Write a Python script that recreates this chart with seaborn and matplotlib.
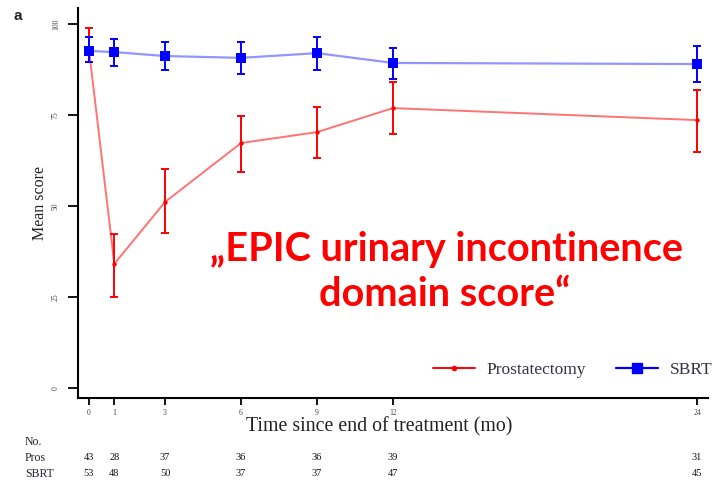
import matplotlib
matplotlib.use("Agg")
import matplotlib.pyplot as plt
import matplotlib.transforms as mtransforms
import seaborn as sns
import pandas as pd

# Follow-up time points (months after end of treatment)
months = [0, 1, 3, 6, 9, 12, 24]

# Prostatectomy: mean score with lower / upper confidence limits
pros_mean = [92.9, 34.1, 51.1, 67.3, 70.3, 76.9, 73.6]
pros_low = [89.6, 25.0, 42.6, 59.3, 63.2, 69.8, 64.8]
pros_high = [98.9, 42.3, 60.2, 74.7, 77.2, 84.1, 81.9]

# SBRT: mean score with lower / upper confidence limits
sbrt_mean = [92.6, 92.3, 91.2, 90.7, 92.0, 89.3, 89.0]
sbrt_low = [89.6, 88.5, 87.4, 86.3, 87.4, 84.9, 84.1]
sbrt_high = [96.4, 95.9, 95.1, 95.1, 96.4, 93.4, 94.0]

# Number of patients at each time point
n_pros = [43, 28, 37, 36, 36, 39, 31]
n_sbrt = [53, 48, 50, 37, 37, 47, 45]

y_ticks = [0, 25, 50, 75, 100]

sns.set_style("ticks")
plt.rcParams["font.family"] = ["Liberation Serif", "DejaVu Serif"]

W, H = 713, 484
fig = plt.figure(figsize=(W / 100, H / 100), dpi=100)
ax = fig.add_axes([78 / W, 1 - 398 / H, (708 - 78) / W, (398 - 8) / H])

RED = "#ff0000"
BLUE = "#0000ff"

df_p = pd.DataFrame({"month": months, "score": pros_mean})
df_s = pd.DataFrame({"month": months, "score": sbrt_mean})

# error bars (confidence intervals)
for mean, lo, hi, col in [(pros_mean, pros_low, pros_high, RED),
                          (sbrt_mean, sbrt_low, sbrt_high, BLUE)]:
    yerr = [[m - l for m, l in zip(mean, lo)], [h - m for m, h in zip(mean, hi)]]
    ax.errorbar(months, mean, yerr=yerr, fmt="none", ecolor=col,
                elinewidth=1.4, capsize=3.2, capthick=1.4, zorder=3)

sns.lineplot(data=df_p, x="month", y="score", ax=ax, color=RED, lw=1.4,
             alpha=0.55, zorder=2, label=None)
sns.lineplot(data=df_s, x="month", y="score", ax=ax, color=BLUE, lw=1.6,
             alpha=0.42, zorder=2, label=None)
ax.scatter(months, pros_mean, s=10, color=RED, zorder=4, linewidths=0)
ax.scatter(months, sbrt_mean, s=42, color=BLUE, marker="s", zorder=4,
           linewidths=0)

ax.set_xlim(-0.434, 24.43)
ax.set_ylim(-2.75, 104.4)
ax.set_xticks(months)
ax.set_xticklabels([str(m) for m in months], fontsize=5.5, color="#445")
ax.set_yticks(y_ticks)
ax.set_yticklabels([str(v) for v in y_ticks], fontsize=5.5, color="#445",
                   rotation=90, va="center")
ax.tick_params(axis="y", length=7, width=1.3, pad=6, color="black")
ax.tick_params(axis="x", length=5, width=1.3, pad=3, color="black")
for side in ["top", "right"]:
    ax.spines[side].set_visible(False)
for side in ["left", "bottom"]:
    ax.spines[side].set_linewidth(1.5)
    ax.spines[side].set_color("black")

ax.set_xlabel("Time since end of treatment (mo)", fontsize=14.3,
              color="#222")
ax.xaxis.set_label_coords((379 - 78) / (708 - 78), -(427 - 398) / (398 - 8))
ax.xaxis.label.set_va("center")
ax.set_ylabel("Mean score", fontsize=11.5, labelpad=3, color="#222")

# legend
h_p = plt.Line2D([], [], color=RED, lw=1.4, marker="o", markersize=3)
h_s = plt.Line2D([], [], color=BLUE, lw=1.6, marker="s", markersize=7)
fig.legend([h_p, h_s], ["Prostatectomy", "SBRT"], ncol=2, frameon=False,
           loc="center right", bbox_to_anchor=(728 / W, 1 - 370 / H),
           fontsize=12.5, handlelength=2.4, handletextpad=0.7,
           columnspacing=1.7, labelcolor="#334")

# patient-count table below the axis
tr = mtransforms.blended_transform_factory(ax.transData, fig.transFigure)
fig.text(25 / W, 1 - 442 / H, "No.", fontsize=8.5, va="center", color="#223")
fig.text(25 / W, 1 - 458 / H, "Pros", fontsize=8.5, va="center", color="#223")
fig.text(25 / W, 1 - 474 / H, "SBRT", fontsize=8.5, va="center", color="#223")
for m, a, b in zip(months, n_pros, n_sbrt):
    ax.text(m, 1 - 458 / H, str(a), transform=tr, fontsize=7.5, ha="center",
            va="center", color="#111")
    ax.text(m, 1 - 474 / H, str(b), transform=tr, fontsize=7.5, ha="center",
            va="center", color="#111")

# panel letter
fig.text(13 / W, 1 - 16 / H, "a", fontsize=11, fontweight="bold",
         family=["Liberation Sans"], va="center", color="#222")

# highlighted caption
fig.text(447 / W, 1 - 250 / H, "\u201eEPIC urinary incontinence",
         fontsize=28.5, fontweight="bold", family=["Lato", "DejaVu Sans"],
         color=RED, ha="center", va="center")
fig.text(445 / W, 1 - 294 / H, "domain score\u201c",
         fontsize=28.5, fontweight="bold", family=["Lato", "DejaVu Sans"],
         color=RED, ha="center", va="center")

fig.savefig("out.png", dpi=100)
